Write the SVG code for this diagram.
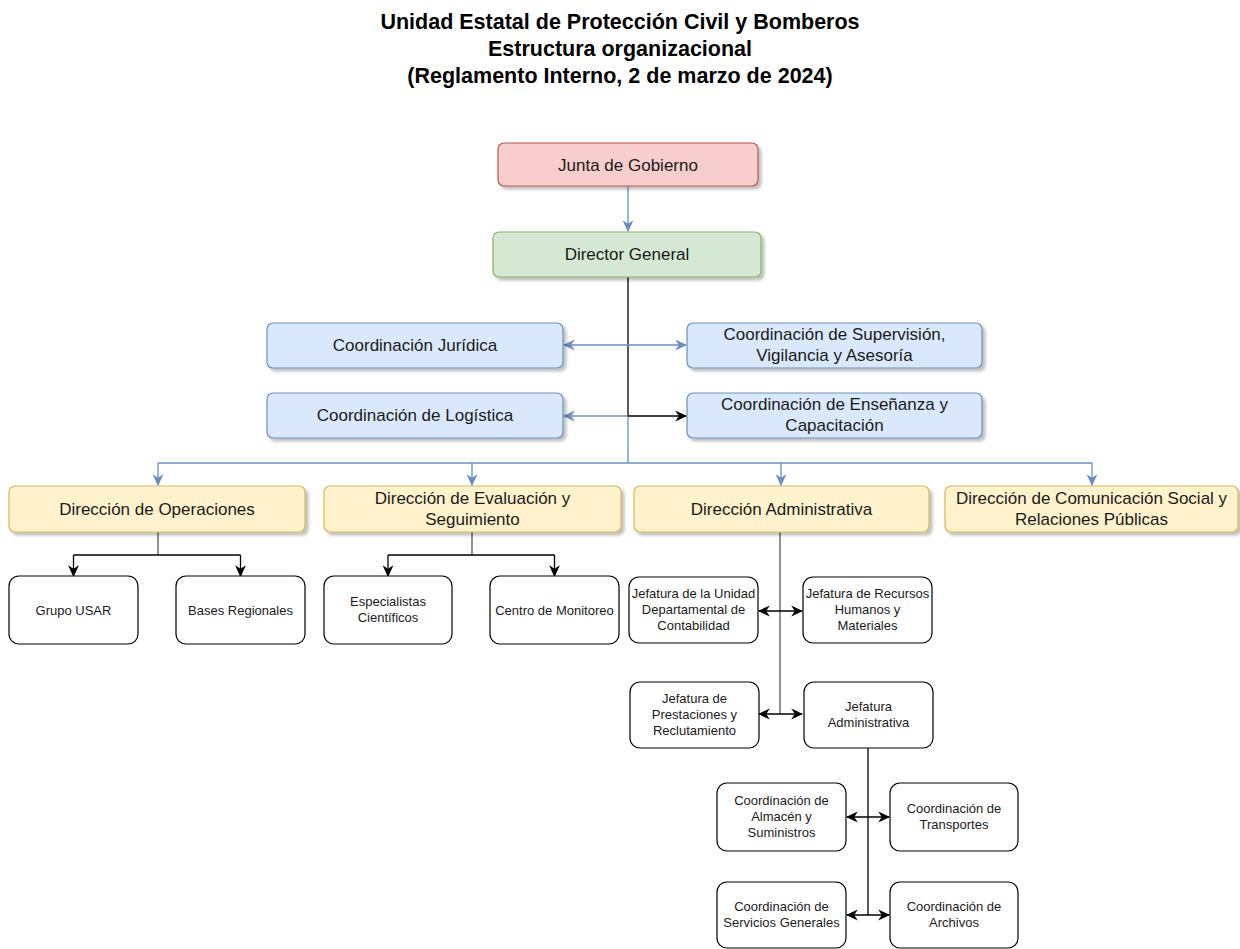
<svg xmlns="http://www.w3.org/2000/svg" width="1240" height="949" viewBox="0 0 1240 949">
  <defs>
    <marker id="ab" markerUnits="userSpaceOnUse" markerWidth="12" markerHeight="12" viewBox="0 0 10 10" refX="9" refY="5" orient="auto-start-reverse">
      <path d="M0,0.5 L10,5 L0,9.5 L3,5 z" fill="#6c8ebf"/>
    </marker>
    <marker id="ak" markerUnits="userSpaceOnUse" markerWidth="12" markerHeight="12" viewBox="0 0 10 10" refX="9" refY="5" orient="auto-start-reverse">
      <path d="M0,0.5 L10,5 L0,9.5 L3,5 z" fill="#000"/>
    </marker>
    <filter id="sh" x="-10%" y="-20%" width="130%" height="160%">
      <feGaussianBlur in="SourceAlpha" stdDeviation="1.6"/>
      <feOffset dx="3" dy="3" result="b"/>
      <feComponentTransfer><feFuncA type="linear" slope="0.25"/></feComponentTransfer>
      <feMerge><feMergeNode/><feMergeNode in="SourceGraphic"/></feMerge>
    </filter>
  </defs>
  <style>
    text { font-family: "Liberation Sans", Arial, sans-serif; fill: #1a1a1a; text-anchor: middle; }
    .title { font-size: 21.5px; font-weight: bold; fill: #000; }
    .big { font-size: 17px; }
    .sm { font-size: 13px; }
    .red { fill: #f8cecc; stroke: #b85450; stroke-width: 1.2; filter: url(#sh); }
    .green { fill: #d5e8d4; stroke: #82b366; stroke-width: 1.2; filter: url(#sh); }
    .blue { fill: #dae8fc; stroke: #6c8ebf; stroke-width: 1.2; filter: url(#sh); }
    .yellow { fill: #fff2cc; stroke: #d6b656; stroke-width: 1.2; filter: url(#sh); }
    .white { fill: #fff; stroke: #000; stroke-width: 1.2; }
    .eb { fill: none; stroke: #6c8ebf; stroke-width: 1.3; }
    .ek { fill: none; stroke: #000; stroke-width: 1.3; }
    .eg { fill: none; stroke: #555; stroke-width: 1.3; }
  </style>
  <rect width="1240" height="949" fill="#fff"/>

  <g id="title">
    <text class="title" x="620" y="29">Unidad Estatal de Protección Civil y Bomberos</text>
    <text class="title" x="620" y="56">Estructura organizacional</text>
    <text class="title" x="620" y="83">(Reglamento Interno, 2 de marzo de 2024)</text>
  </g>

  <g id="connectors">
    <path class="eb" d="M628,186 V231" marker-end="url(#ab)"/>
    <path class="ek" d="M628,277 V416"/>
    <path class="eb" d="M628,416 V463"/>
    <path class="eb" d="M628,345 H564" marker-end="url(#ab)"/>
    <path class="eb" d="M628,345 H686" marker-end="url(#ab)"/>
    <path class="eb" d="M628,416 H564" marker-end="url(#ab)"/>
    <path class="ek" d="M628,416 H686" marker-end="url(#ak)"/>
    <path class="eb" d="M158,463 H1092"/>
    <path class="eb" d="M158,463 V485" marker-end="url(#ab)"/>
    <path class="eb" d="M472,463 V485" marker-end="url(#ab)"/>
    <path class="eb" d="M781,463 V485" marker-end="url(#ab)"/>
    <path class="eb" d="M1092,463 V485" marker-end="url(#ab)"/>

    <path class="eg" d="M158,532 V555"/>
    <path class="ek" d="M73.5,555 H240.5"/>
    <path class="ek" d="M73.5,555 V576" marker-end="url(#ak)"/>
    <path class="ek" d="M240.5,555 V576" marker-end="url(#ak)"/>

    <path class="eg" d="M472,532 V555"/>
    <path class="ek" d="M388,555 H554.5"/>
    <path class="ek" d="M388,555 V576" marker-end="url(#ak)"/>
    <path class="ek" d="M554.5,555 V576" marker-end="url(#ak)"/>

    <path class="eg" d="M780,532 V714"/>
    <path class="ek" d="M759,611 H802" marker-start="url(#ak)" marker-end="url(#ak)"/>
    <path class="ek" d="M759,714 H802" marker-start="url(#ak)" marker-end="url(#ak)"/>

    <path class="ek" d="M868,748 V915"/>
    <path class="ek" d="M847,817 H889" marker-start="url(#ak)" marker-end="url(#ak)"/>
    <path class="ek" d="M847,915 H889" marker-start="url(#ak)" marker-end="url(#ak)"/>
  </g>

  <g id="junta">
    <rect class="red" x="498" y="143" width="260" height="43" rx="6"/>
    <text class="big" x="628" y="170.5">Junta de Gobierno</text>
  </g>
  <g id="director">
    <rect class="green" x="493" y="232" width="268" height="45" rx="6"/>
    <text class="big" x="627" y="260">Director General</text>
  </g>

  <g id="coord-juridica">
    <rect class="blue" x="267" y="323" width="296" height="45" rx="6"/>
    <text class="big" x="415" y="351">Coordinación Jurídica</text>
  </g>
  <g id="coord-supervision">
    <rect class="blue" x="687" y="323" width="295" height="45" rx="6"/>
    <text class="big" x="834.5" y="340">Coordinación de Supervisión,</text>
    <text class="big" x="834.5" y="361">Vigilancia y Asesoría</text>
  </g>
  <g id="coord-logistica">
    <rect class="blue" x="267" y="393" width="296" height="45" rx="6"/>
    <text class="big" x="415" y="421">Coordinación de Logística</text>
  </g>
  <g id="coord-ensenanza">
    <rect class="blue" x="687" y="393" width="295" height="45" rx="6"/>
    <text class="big" x="834.5" y="410">Coordinación de Enseñanza y</text>
    <text class="big" x="834.5" y="431">Capacitación</text>
  </g>

  <g id="dir-operaciones">
    <rect class="yellow" x="9" y="486" width="296" height="46" rx="6"/>
    <text class="big" x="157" y="515">Dirección de Operaciones</text>
  </g>
  <g id="dir-evaluacion">
    <rect class="yellow" x="324" y="486" width="297" height="46" rx="6"/>
    <text class="big" x="472.5" y="504">Dirección de Evaluación y</text>
    <text class="big" x="472.5" y="525">Seguimiento</text>
  </g>
  <g id="dir-administrativa">
    <rect class="yellow" x="634" y="486" width="295" height="46" rx="6"/>
    <text class="big" x="781.5" y="515">Dirección Administrativa</text>
  </g>
  <g id="dir-comunicacion">
    <rect class="yellow" x="945" y="486" width="293" height="46" rx="6"/>
    <text class="big" x="1091.5" y="504">Dirección de Comunicación Social y</text>
    <text class="big" x="1091.5" y="525">Relaciones Públicas</text>
  </g>

  <g id="grupo-usar">
    <rect class="white" x="9" y="576" width="129" height="68" rx="10"/>
    <text class="sm" x="73.5" y="614.5">Grupo USAR</text>
  </g>
  <g id="bases-regionales">
    <rect class="white" x="176" y="576" width="129" height="68" rx="10"/>
    <text class="sm" x="240.5" y="614.5">Bases Regionales</text>
  </g>
  <g id="especialistas">
    <rect class="white" x="324" y="576" width="128" height="68" rx="10"/>
    <text class="sm" x="388" y="606">Especialistas</text>
    <text class="sm" x="388" y="622">Científicos</text>
  </g>
  <g id="centro-monitoreo">
    <rect class="white" x="490" y="576" width="129" height="68" rx="10"/>
    <text class="sm" x="554.5" y="614.5">Centro de Monitoreo</text>
  </g>

  <g id="jef-contabilidad">
    <rect class="white" x="629" y="577" width="129" height="66" rx="10"/>
    <text class="sm" x="693.5" y="598">Jefatura de la Unidad</text>
    <text class="sm" x="693.5" y="614">Departamental de</text>
    <text class="sm" x="693.5" y="630">Contabilidad</text>
  </g>
  <g id="jef-recursos">
    <rect class="white" x="803" y="577" width="129" height="66" rx="10"/>
    <text class="sm" x="867.5" y="598">Jefatura de Recursos</text>
    <text class="sm" x="867.5" y="614">Humanos y</text>
    <text class="sm" x="867.5" y="630">Materiales</text>
  </g>
  <g id="jef-prestaciones">
    <rect class="white" x="630" y="682" width="129" height="66" rx="10"/>
    <text class="sm" x="694.5" y="703">Jefatura de</text>
    <text class="sm" x="694.5" y="719">Prestaciones y</text>
    <text class="sm" x="694.5" y="735">Reclutamiento</text>
  </g>
  <g id="jef-administrativa">
    <rect class="white" x="804" y="682" width="129" height="66" rx="10"/>
    <text class="sm" x="868.5" y="711">Jefatura</text>
    <text class="sm" x="868.5" y="727">Administrativa</text>
  </g>

  <g id="coord-almacen">
    <rect class="white" x="717" y="783" width="129" height="68" rx="10"/>
    <text class="sm" x="781.5" y="805">Coordinación de</text>
    <text class="sm" x="781.5" y="821">Almacén y</text>
    <text class="sm" x="781.5" y="837">Suministros</text>
  </g>
  <g id="coord-transportes">
    <rect class="white" x="890" y="783" width="128" height="68" rx="10"/>
    <text class="sm" x="954" y="813">Coordinación de</text>
    <text class="sm" x="954" y="829">Transportes</text>
  </g>
  <g id="coord-servicios">
    <rect class="white" x="717" y="882" width="129" height="66" rx="10"/>
    <text class="sm" x="781.5" y="911">Coordinación de</text>
    <text class="sm" x="781.5" y="927">Servicios Generales</text>
  </g>
  <g id="coord-archivos">
    <rect class="white" x="890" y="882" width="128" height="66" rx="10"/>
    <text class="sm" x="954" y="911">Coordinación de</text>
    <text class="sm" x="954" y="927">Archivos</text>
  </g>
</svg>
